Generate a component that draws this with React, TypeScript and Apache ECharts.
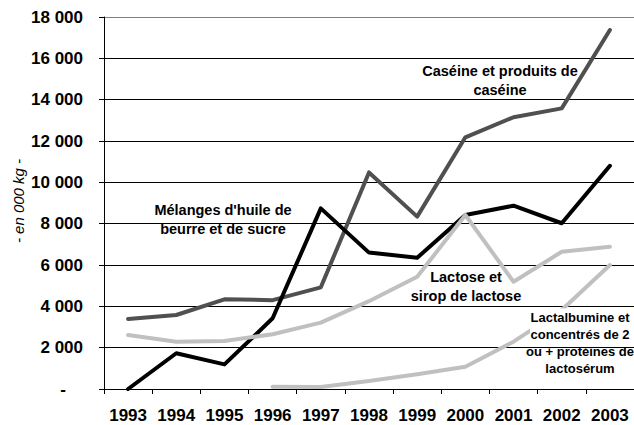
import React, { useEffect, useRef } from "react";
import * as echarts from "echarts";

const years = ["1993", "1994", "1995", "1996", "1997", "1998", "1999", "2000", "2001", "2002", "2003"];
const melanges = [0, 1730, 1190, 3420, 8740, 6600, 6350, 8420, 8870, 8020, 10800];
const caseine = [3390, 3580, 4340, 4300, 4920, 10480, 8340, 12180, 13150, 13580, 17370];
const lactose = [2610, 2290, 2320, 2650, 3210, 4250, 5430, 8420, 5190, 6640, 6880];
const lactalbumine = [null, null, null, 110, 100, 390, 710, 1080, 2290, 3820, 6000];

const FONT = "Liberation Sans, Arial, sans-serif";

export default function App() {
  const ref = useRef<HTMLDivElement>(null);
  useEffect(() => {
    if (!ref.current) return;
    const chart = echarts.init(ref.current, null, { renderer: "svg" });
    const lab = (x: number, y: number, text: string, size = 14.5, lh = 19) => ({
      type: "text",
      x,
      y,
      z: 60,
      style: {
        text,
        fill: "#000",
        font: `bold ${size}px ${FONT}`,
        textAlign: "center",
        textVerticalAlign: "middle",
        lineHeight: lh,
      },
    });
    const gridColors = ["#000", "#000", "#000", "#000", "#000", "#000", "#000", "#000", "#000", "#808080"];
    chart.setOption({
      animation: false,
      backgroundColor: "#fff",
      grid: { left: 104, top: 17, width: 535, height: 372, containLabel: false },
      xAxis: {
        type: "category",
        data: years,
        boundaryGap: true,
        axisLine: { lineStyle: { color: "#000", width: 1 } },
        axisTick: { show: true, length: 5, interval: 0, lineStyle: { color: "#000" } },
        axisLabel: {
          interval: 0,
          hideOverlap: false,
          margin: 18,
          color: "#000",
          fontFamily: FONT,
          fontWeight: "bold",
          fontSize: 17,
        },
        splitLine: { show: false },
      },
      yAxis: {
        type: "value",
        min: 0,
        max: 18000,
        interval: 2000,
        axisLine: { show: true, lineStyle: { color: "#000", width: 1 } },
        axisTick: { show: true, length: 5, lineStyle: { color: "#000" } },
        axisLabel: {
          margin: 21,
          color: "#000",
          fontFamily: FONT,
          fontWeight: "bold",
          fontSize: 17,
          formatter: (v: number) =>
            v === 0 ? "{d|-}" : String(v / 1000) + " 000",
          rich: {
            d: {
              padding: [0, 17, 0, 0],
              color: "#000",
              fontFamily: FONT,
              fontWeight: "bold",
              fontSize: 17,
            },
          },
        },
        splitLine: { show: true, lineStyle: { color: gridColors, width: 1 } },
      },
      series: [
        {
          name: "Caséine et produits de caséine",
          type: "line",
          data: caseine,
          symbol: "none",
          lineStyle: { color: "#505050", width: 4, cap: "round", join: "round" },
          z: 2,
        },
        {
          name: "Mélanges d'huile de beurre et de sucre",
          type: "line",
          data: melanges,
          symbol: "none",
          lineStyle: { color: "#000", width: 4, cap: "round", join: "round" },
          z: 3,
        },
        {
          name: "Lactose et sirop de lactose",
          type: "line",
          data: lactose,
          symbol: "none",
          lineStyle: { color: "#c0c0c0", width: 4, cap: "round", join: "round" },
          z: 4,
        },
        {
          name: "Lactalbumine et concentrés de 2 ou + protéines de lactosérum",
          type: "line",
          data: lactalbumine,
          symbol: "none",
          connectNulls: false,
          lineStyle: { color: "#c0c0c0", width: 4, cap: "round", join: "round" },
          z: 4,
        },
      ],
      graphic: {
        elements: [
          {
            type: "text",
            x: 18,
            y: 201,
            z: 60,
            rotation: Math.PI / 2,
            style: {
              text: "- en 000 kg -",
              fill: "#000",
              font: `italic 15px ${FONT}`,
              textAlign: "center",
              textVerticalAlign: "middle",
            },
          },
          {
            type: "rect",
            z: 50,
            shape: { x: 530, y: 308.5, width: 110, height: 38 },
            style: { fill: "#fff" },
          },
          lab(500, 80.5, "Caséine et produits de\ncaséine"),
          lab(223, 219.5, "Mélanges d'huile de\nbeurre et de sucre"),
          lab(466, 286, "Lactose et\nsirop de lactose"),
          lab(580, 343, "Lactalbumine et\nconcentrés de 2\nou + protéines de\nlactosérum", 13, 17.3),
        ],
      },
    });
    return () => chart.dispose();
  }, []);
  return (
    <div
      ref={ref}
      style={{ position: "fixed", left: 0, top: 0, width: 634, height: 425, background: "#fff" }}
    />
  );
}
